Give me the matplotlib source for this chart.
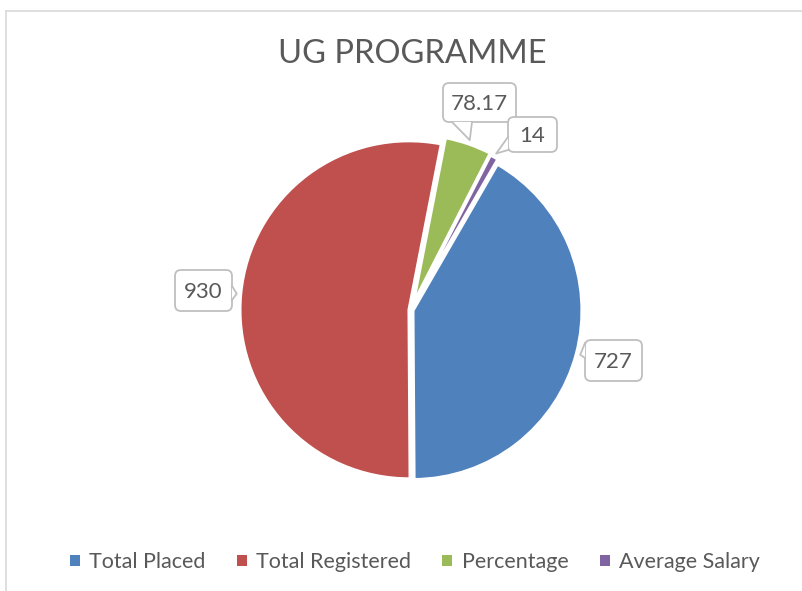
import math
import matplotlib
matplotlib.use("Agg")
import matplotlib.pyplot as plt
from matplotlib.patches import FancyBboxPatch, Polygon, Rectangle
from matplotlib.lines import Line2D
from matplotlib.transforms import Affine2D

# ---- data ----
categories = ["Total Placed", "Total Registered", "Percentage", "Average Salary"]
values = [727, 930, 78.17, 14]
value_labels = ["727", "930", "78.17", "14"]
colors = ["#4F81BD", "#C0504D", "#9BBB59", "#8064A2"]
title = "UG PROGRAMME"

plt.rcParams['font.family'] = ['Lato', 'DejaVu Sans']
TXT = "#595959"
W, H = 802, 591
fig = plt.figure(figsize=(W / 100, H / 100), dpi=100)
fig.patch.set_facecolor("white")

# pixel (top-left origin) transform
px = Affine2D().scale(1 / W, -1 / H).translate(0, 1) + fig.transFigure

# chart border
fig.add_artist(Line2D([5.5, 5.5], [600, 10.5], color="#d9d9d9", lw=1.2, transform=px))
fig.add_artist(Line2D([5.5, 810], [10.5, 10.5], color="#d9d9d9", lw=1.2, transform=px))

# pie layout (pixels)
CX, CY, R = 411, 310, 169
half = 200
ax = fig.add_axes([(CX - half) / W, (H - CY - half) / H, 2 * half / W, 2 * half / H])
lim = half / R
explode = [0.012, 0.012, 0.04, 0.03]
wedges, _ = ax.pie(values, colors=colors, startangle=60, counterclock=False,
                   explode=explode, radius=1,
                   wedgeprops=dict(edgecolor="white", linewidth=2.2))
ax.set_xlim(-lim, lim)
ax.set_ylim(-lim, lim)
ax.set_aspect("equal")
ax.axis("off")

fig.text(412 / W, 1 - 54 / H, title, ha="center", va="center", fontsize=23.5, color=TXT)

# callouts: box (x0, y0, x1, y1) in pixels, pointer base side
total = sum(values)
boxes = [
    dict(box=(585, 340, 642, 381), side="left", base=(343, 358)),
    dict(box=(175, 270, 232, 311), side="right", base=(286, 300)),
    dict(box=(443, 83, 516, 122), side="bottom", base=(452, 472)),
    dict(box=(508, 117, 557, 152), side="left", base=(137, 150)),
]
ec = "#bfbfbf"
cum = 0.0
for i, v in enumerate(values):
    # mid angle in degrees clockwise from 12 o'clock (pie starts at 30 deg)
    mid = 30 + 360 * (cum + v / 2) / total
    cum += v
    rt = R + 4
    ex = explode[i] * R
    tx = CX + (rt + ex) * math.sin(math.radians(mid))
    ty = CY - (rt + ex) * math.cos(math.radians(mid))
    b = boxes[i]
    x0, y0, x1, y1 = b["box"]
    fig.add_artist(FancyBboxPatch((x0, y0), x1 - x0, y1 - y0,
                                  boxstyle="round,pad=0,rounding_size=6",
                                  fc="white", ec=ec, lw=1.3, transform=px, zorder=5))
    if b["side"] == "left":
        p1, p2 = (x0, b["base"][0]), (x0, b["base"][1])
    elif b["side"] == "right":
        p1, p2 = (x1, b["base"][0]), (x1, b["base"][1])
    else:
        p1, p2 = (b["base"][0], y1), (b["base"][1], y1)
    fig.add_artist(Polygon([p1, (tx, ty), p2], closed=True, fc="white", ec="none",
                           transform=px, zorder=6))
    fig.add_artist(Line2D([p1[0], tx, p2[0]], [p1[1], ty, p2[1]], color=ec, lw=1.3,
                          transform=px, zorder=7))
    fig.text((x0 + x1) / 2 / W, 1 - ((y0 + y1) / 2 + 1) / H, value_labels[i],
             ha="center", va="center", fontsize=16, color=TXT, zorder=8)

# legend
leg = fig.legend(handles=[Rectangle((0, 0), 1, 1, fc=c, ec="none") for c in colors],
                 labels=categories, loc="center", bbox_to_anchor=(415 / W, 1 - 562 / H),
                 ncol=4, frameon=False, fontsize=15.5, labelcolor=TXT,
                 handlelength=0.45, handleheight=0.45, handletextpad=0.45,
                 columnspacing=1.45)

fig.savefig("out.png", dpi=100, facecolor="white")
